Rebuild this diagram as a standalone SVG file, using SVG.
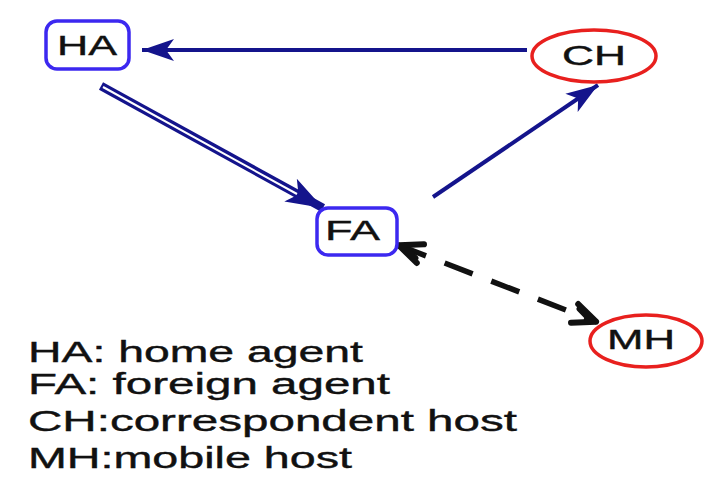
<svg xmlns="http://www.w3.org/2000/svg" width="720" height="492" viewBox="0 0 720 492">
<style>
.box{fill:#fff;stroke:#3c28f0;stroke-width:3.5}
.ell{fill:#fff;stroke:#e8201e;stroke-width:3.5}
.lbl{font-family:"Liberation Sans",Arial,sans-serif;font-size:28px;fill:#111;stroke:#111;stroke-width:0.4}
.leg{font-family:"Liberation Sans",Arial,sans-serif;font-size:30px;fill:#111;stroke:#111;stroke-width:0.4}
.navy{stroke:#14148c;stroke-width:4;fill:none}
.dash{stroke:#111;stroke-width:5.5;fill:none;stroke-dasharray:30 20}
</style>
<defs>
<marker id="nav" markerUnits="userSpaceOnUse" markerWidth="36" markerHeight="28" refX="34" refY="14" orient="auto">
<path d="M34,14 L2,3 L10,14 L2,25 Z" fill="#14148c"/>
</marker>
<marker id="navBig" markerUnits="userSpaceOnUse" markerWidth="42" markerHeight="32" refX="40" refY="16" orient="auto">
<path d="M40,16 L3,3 L12,16 L3,29 Z" fill="#14148c"/>
</marker>
<marker id="blk" markerUnits="userSpaceOnUse" markerWidth="34" markerHeight="30" refX="30" refY="15" orient="auto-start-reverse">
<path d="M29,15 L6,5 M29,15 L6,25 M22,15 L9,9" stroke="#111" stroke-width="6" stroke-linecap="round" fill="none"/>
</marker>
</defs>
<g id="connectors">
<line class="navy" x1="527" y1="50" x2="142" y2="50" marker-end="url(#nav)"/>
<line class="navy" x1="433" y1="197" x2="598" y2="85" marker-end="url(#nav)"/>
<line x1="101" y1="86" x2="323" y2="208" stroke="#14148c" stroke-width="8.5" marker-end="url(#navBig)"/>
<line x1="103" y1="87" x2="297" y2="194" stroke="#fff" stroke-width="2"/>
<line class="dash" x1="398" y1="245" x2="597" y2="322" marker-start="url(#blk)" marker-end="url(#blk)"/>
</g>
<g id="HA">
<rect class="box" x="46" y="21" width="83" height="48" rx="11"/>
<text class="lbl" x="57" y="55" textLength="60" lengthAdjust="spacingAndGlyphs">HA</text>
</g>
<g id="CH">
<ellipse class="ell" cx="594" cy="56" rx="62" ry="26"/>
<text class="lbl" x="562" y="65" textLength="64" lengthAdjust="spacingAndGlyphs">CH</text>
</g>
<g id="FA">
<rect class="box" x="317" y="208" width="80" height="47" rx="11"/>
<text class="lbl" x="325" y="240" textLength="55" lengthAdjust="spacingAndGlyphs">FA</text>
</g>
<g id="MH">
<ellipse class="ell" cx="646" cy="341" rx="56" ry="26"/>
<text class="lbl" x="607" y="349" textLength="68" lengthAdjust="spacingAndGlyphs">MH</text>
</g>
<g id="legend">
<text class="leg" x="28" y="362" textLength="335" lengthAdjust="spacingAndGlyphs">HA: home agent</text>
<text class="leg" x="28" y="394" textLength="362" lengthAdjust="spacingAndGlyphs">FA: foreign agent</text>
<text class="leg" x="28" y="431" textLength="489" lengthAdjust="spacingAndGlyphs">CH:correspondent host</text>
<text class="leg" x="28" y="468" textLength="324" lengthAdjust="spacingAndGlyphs">MH:mobile host</text>
</g>
</svg>
